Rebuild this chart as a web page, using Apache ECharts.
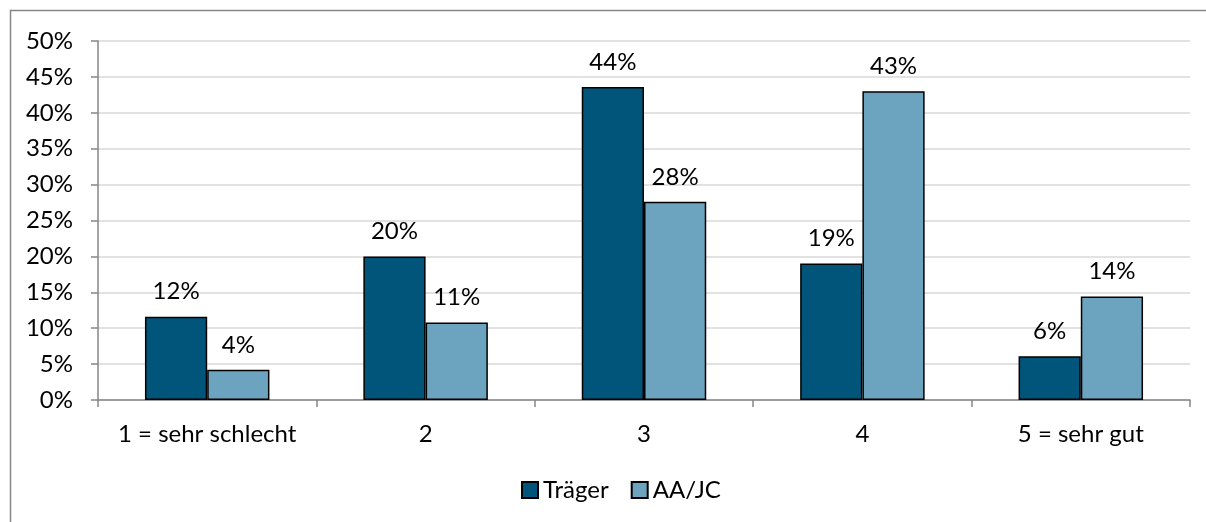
<!DOCTYPE html>
<html><head><meta charset="utf-8">
<script src="https://cdn.jsdelivr.net/npm/echarts@6/dist/echarts.min.js"></script>
<style>html,body{margin:0;padding:0;background:#fff}#c{width:1206px;height:522px}</style>
</head><body><div id="c"></div>
<script>
const categories = ['1 = sehr schlecht', '2', '3', '4', '5 = sehr gut'];
const traeger = [11.6, 20.0, 43.6, 19.0, 6.1];
const aajc = [4.2, 10.8, 27.6, 43.0, 14.4];
const seriesNames = ['Träger', 'AA/JC'];
const yTicks = [0, 5, 10, 15, 20, 25, 30, 35, 40, 45, 50];

const FONT = 'Lato, "Open Sans", sans-serif';
const FS = 24;
const chart = echarts.init(document.getElementById('c'));
const labelCfg = {
  show: true, position: 'top', distance: 13,
  formatter: p => Math.round(p.value) + '%',
  color: '#000', fontSize: FS, fontFamily: FONT
};
chart.setOption({
  animation: false,
  graphic: [{type: 'rect', shape: {x: 10.5, y: 10.5, width: 1220, height: 540},
    style: {fill: 'none', stroke: '#868686', lineWidth: 1.5}, silent: true}],
  grid: {left: 98, right: 16, top: 41, bottom: 122},
  legend: {
    top: 477, left: 521, itemWidth: 16, itemHeight: 16, itemGap: 22, padding: 0,
    textStyle: {fontSize: FS, fontFamily: FONT, color: '#000', lineHeight: 26},
    data: seriesNames.map(n => ({name: n, icon: 'rect'}))
  },
  xAxis: {
    type: 'category', data: categories,
    axisLine: {lineStyle: {color: '#868686', width: 1.5}},
    axisTick: {show: true, length: 7, lineStyle: {color: '#868686', width: 1.5}},
    axisLabel: {fontSize: FS, fontFamily: FONT, color: '#000', margin: 22, interval: 0}
  },
  yAxis: {
    type: 'value', min: 0, max: 50, interval: 5,
    axisLine: {show: true, lineStyle: {color: '#868686', width: 1.5}},
    axisTick: {show: true, length: 7, lineStyle: {color: '#868686', width: 1.5}},
    splitLine: {lineStyle: {color: '#d9d9d9', width: 1.5}},
    axisLabel: {fontSize: FS, fontFamily: FONT, color: '#000', margin: 25,
      formatter: v => yTicks.includes(v) ? v + '%' : ''}
  },
  series: [
    {name: seriesNames[0], type: 'bar', data: traeger, barGap: '0%', barCategoryGap: '43%',
     itemStyle: {color: '#02557a', borderColor: '#000', borderWidth: 1.5}, label: labelCfg},
    {name: seriesNames[1], type: 'bar', data: aajc,
     itemStyle: {color: '#6ca3bf', borderColor: '#000', borderWidth: 1.5}, label: labelCfg}
  ]
});
</script></body></html>
